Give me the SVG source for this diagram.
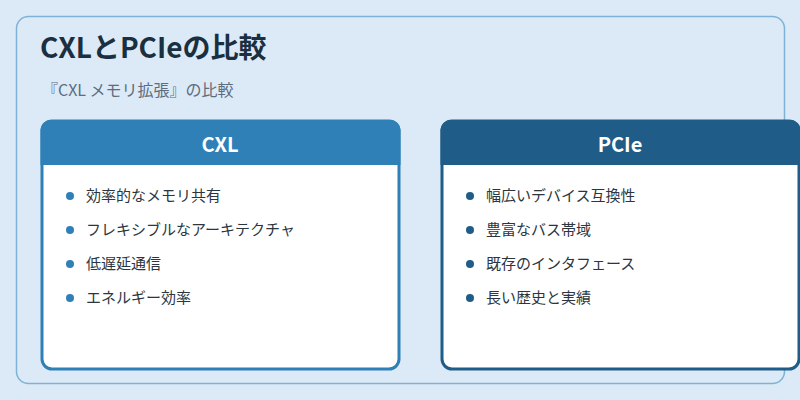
<svg xmlns="http://www.w3.org/2000/svg" width="800" height="400" viewBox="0 0 800 400">
<style>
text{font-family:"Noto Sans CJK JP","Noto Sans",sans-serif}
.item{font-size:15px;fill:#2b3640}
.hd{font-size:20px;font-weight:bold;fill:#fff;text-anchor:middle}
</style>
<rect width="800" height="400" fill="#dbeaf6"/>
<rect x="16.5" y="16.5" width="768" height="367" rx="12" fill="#dbeaf6" stroke="#7fb3d5" stroke-width="1.5"/>
<text x="40" y="58" font-size="28" font-weight="bold" fill="#1a2f40">CXLとPCIeの比較</text>
<text x="42" y="96" font-size="16" fill="#5d6d7e">『CXL メモリ拡張』の比較</text>
<g id="cxl">
<rect x="42" y="121" width="357" height="248" rx="10" fill="#fff" stroke="#2e80b6" stroke-width="3"/>
<path d="M40.5 165V130a10 10 0 0 1 10-10h340a10 10 0 0 1 10 10v35z" fill="#2e80b6"/>
<text class="hd" x="220" y="152">CXL</text>
<g fill="#2e80b6"><circle cx="70" cy="196" r="4"/><circle cx="70" cy="230" r="4"/><circle cx="70" cy="264" r="4"/><circle cx="70" cy="298" r="4"/></g>
<text class="item" x="86" y="201">効率的なメモリ共有</text>
<text class="item" x="86" y="235">フレキシブルなアーキテクチャ</text>
<text class="item" x="86" y="269">低遅延通信</text>
<text class="item" x="86" y="303">エネルギー効率</text>
</g>
<g id="pcie">
<rect x="442" y="121" width="357" height="248" rx="10" fill="#fff" stroke="#1f5c87" stroke-width="3"/>
<path d="M440.5 165V130a10 10 0 0 1 10-10h340a10 10 0 0 1 10 10v35z" fill="#1f5c87"/>
<text class="hd" x="620" y="152">PCIe</text>
<g fill="#1f5c87"><circle cx="470" cy="196" r="4"/><circle cx="470" cy="230" r="4"/><circle cx="470" cy="264" r="4"/><circle cx="470" cy="298" r="4"/></g>
<text class="item" x="486" y="201">幅広いデバイス互換性</text>
<text class="item" x="486" y="235">豊富なバス帯域</text>
<text class="item" x="486" y="269">既存のインタフェース</text>
<text class="item" x="486" y="303">長い歴史と実績</text>
</g>
<g id="connectors"/>
</svg>
